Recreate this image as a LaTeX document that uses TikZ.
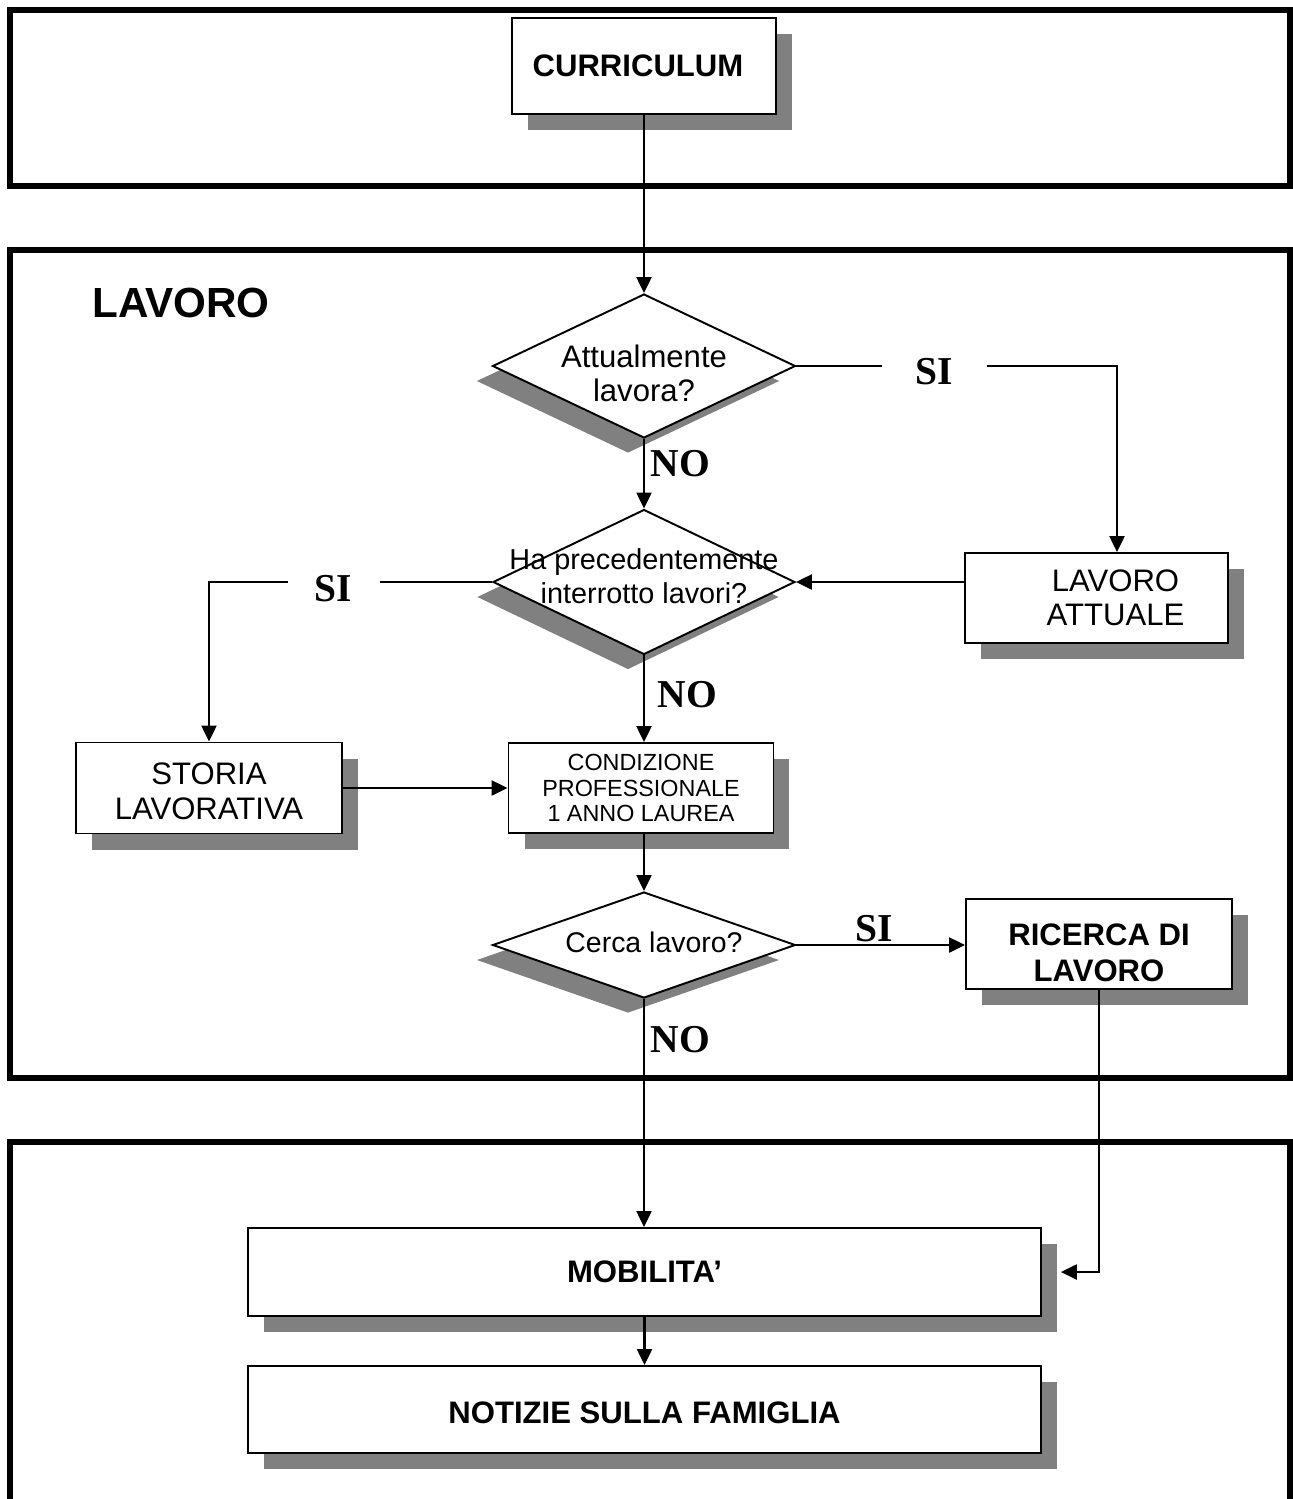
\documentclass[tikz,border=0pt]{standalone}
\usepackage{fontspec}
\setmainfont{Liberation Sans}
\newfontfamily\timesfont{Liberation Serif}
\usetikzlibrary{shapes.geometric, shadows, arrows.meta}
\definecolor{shadowgray}{HTML}{808080}

\tikzset{
	frame/.style={line width=3.4pt},
	box/.style={draw, line width=1.1pt, fill=white, inner sep=0pt, align=center,
		font=\fontsize{17.7}{19.5}\selectfont,
		general shadow={fill=shadowgray, shadow xshift=0.32cm, shadow yshift=-0.32cm}},
	boldbox/.style={box, font=\fontsize{17.7}{20.5}\selectfont\bfseries},
	decision/.style={diamond, draw, line width=1.1pt, fill=white, inner sep=0pt, align=center,
		font=\fontsize{17.7}{19.3}\selectfont,
		general shadow={fill=shadowgray, shadow xshift=-0.32cm, shadow yshift=-0.3cm}},
	arrow/.style={line width=1.3pt, -{Triangle[length=0.32cm, width=0.3cm]}},
	answer/.style={font=\timesfont\bfseries\fontsize{22.5}{24}\selectfont, inner sep=1pt},
}

\begin{document}
\begin{tikzpicture}[x=0.02cm, y=-0.02cm]
	\useasboundingbox (0,0) rectangle (1293,1499);

	% Frames
	\draw[frame] (10,10) rectangle (1290,186);
	\draw[frame] (10,250) rectangle (1290,1078);
	\draw[frame] (10,1520) -- (10,1142) -- (1290,1142) -- (1290,1520);

	% Title
	\node[font=\fontsize{24}{26}\selectfont\bfseries] (title) at (181,303) {LAVORO};

	% Nodes
	\node[boldbox, minimum width=5.28cm, minimum height=1.92cm] (curr) at (644,66) {CURRICULUM\hspace*{0.24cm}};
	\node[decision, minimum width=6.06cm, minimum height=2.88cm] (d1) at (644,366)
		{\makebox[0pt]{\rule{0pt}{21.7pt}Attualmente}\\\makebox[0pt]{lavora?}};
	\node[decision, minimum width=6.04cm, minimum height=2.9cm, font=\fontsize{16.4}{19.3}\selectfont] (d2) at (644,582)
		{\makebox[0pt]{Ha precedentemente}\\\makebox[0pt]{interrotto lavori?\rule[-6.8pt]{0pt}{6.8pt}}};
	\node[box, minimum width=5.26cm, minimum height=1.8cm] (attuale) at (1096.5,598)
		{\hspace*{0.76cm}LAVORO\\\hspace*{0.76cm}ATTUALE};
	\node[box, minimum width=5.32cm, minimum height=1.82cm] (storia) at (209,788)
		{\rule{0pt}{16pt}STORIA\\LAVORATIVA};
	\node[box, minimum width=5.3cm, minimum height=1.8cm, font=\fontsize{13.3}{14.7}\selectfont] (cond) at (641,788)
		{CONDIZIONE\\PROFESSIONALE\\1 ANNO LAUREA};
	\node[decision, minimum width=6.06cm, minimum height=2.12cm, font=\fontsize{16.2}{18}\selectfont] (d3) at (644,945)
		{\makebox[0pt]{\hspace*{0.4cm}Cerca lavoro?\rule[-3.4pt]{0pt}{3.4pt}}};
	\node[boldbox, minimum width=5.32cm, minimum height=1.8cm] (ricerca) at (1099,944)
		{\rule{0pt}{22.9pt}RICERCA DI\\LAVORO};
	\node[boldbox, minimum width=15.86cm, minimum height=1.76cm] (mobil) at (644.5,1272) {MOBILITA’};
	\node[boldbox, minimum width=15.86cm, minimum height=1.74cm] (famiglia) at (644.5,1409.5) {\rule{0pt}{16pt}NOTIZIE SULLA FAMIGLIA};

	% Edges
	\coordinate (c1) at (1117,366);
	\coordinate (c2) at (209,582);
	\draw[arrow] (curr.south) -- (curr.south |- d1.north);
	\draw[arrow] (d1.east) -- node[answer, fill=white, minimum width=2.1cm, yshift=-0.12cm, pos=0.43] (si1) {SI} (c1) -- (c1 |- attuale.north);
	\draw[arrow] (d1.south) -- node[answer, anchor=west, xshift=0.08cm, pos=0.35] (no1) {NO} (d2.north);
	\draw[arrow] (attuale.west |- d2.east) -- (d2.east);
	\draw[arrow] (d2.west) -- node[answer, fill=white, minimum width=1.84cm, yshift=-0.13cm, pos=0.56] (si2) {SI} (c2) -- (storia.north);
	\draw[arrow] (d2.south) -- node[answer, anchor=west, xshift=0.22cm, pos=0.45] (no2) {NO} (d2.south |- cond.north);
	\draw[arrow] (storia.east) -- (cond.west);
	\draw[arrow] (d2.south |- cond.south) -- (d3.north);
	\draw[arrow] (d3.east) -- node[answer, above, pos=0.46] (si3) {SI} (d3.east -| ricerca.west);
	\draw[arrow] (d3.south) -- node[answer, anchor=west, xshift=0.08cm, pos=0.18] (no3) {NO} (d3.south |- mobil.north);
	\draw[arrow] (ricerca.south) -- (ricerca.south |- mobil.east) -- ([xshift=0.38cm]mobil.east);
	\draw[arrow] (mobil.south) -- (famiglia.north);
\end{tikzpicture}
\end{document}
